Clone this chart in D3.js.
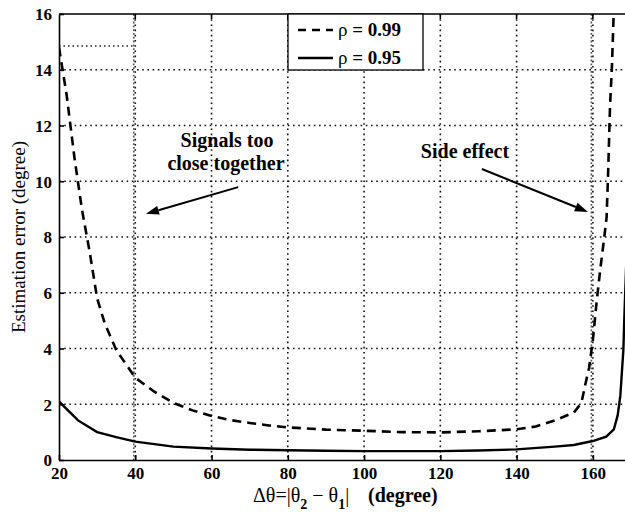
<!DOCTYPE html>
<html>
<head>
<meta charset="utf-8">
<script src="https://cdn.jsdelivr.net/npm/d3@7"></script>
<style>
  html, body { margin: 0; padding: 0; background: #fff; }
  svg { display: block; }
  text { font-family: "Liberation Serif", "Times New Roman", serif; fill: #000; }
</style>
</head>
<body>
<svg id="chart" width="625" height="515"></svg>
<script>
// Angular separation (degree) and estimation error (degree) for two correlation levels
const sepHigh = [20, 22, 24, 26, 28, 30, 32, 35, 40, 45, 50, 55, 60, 65, 70, 75, 80, 90, 100, 110, 120, 130, 140, 145, 150, 155, 157, 158, 159, 160, 161, 162, 163, 163.6, 164, 164.5, 165, 165.5];
const errHigh = [14.8, 13.1, 10.9, 9.0, 7.5, 5.8, 4.9, 3.95, 2.95, 2.45, 2.05, 1.78, 1.58, 1.43, 1.33, 1.24, 1.17, 1.09, 1.05, 1.0, 0.99, 1.03, 1.1, 1.2, 1.42, 1.7, 2.05, 2.7, 3.3, 4.3, 5.7, 6.9, 8.0, 8.7, 10.3, 12.7, 14.1, 16.2];

const sepLow = [20, 25, 30, 35, 40, 50, 60, 70, 80, 90, 100, 120, 130, 140, 150, 155, 160, 163.5, 165.5, 166.5, 167.2, 168, 168.3, 169];
const errLow = [2.1, 1.42, 1.0, 0.82, 0.66, 0.48, 0.41, 0.37, 0.35, 0.33, 0.32, 0.32, 0.34, 0.38, 0.48, 0.54, 0.68, 0.84, 1.1, 1.6, 2.3, 3.95, 5.3, 8.0];

const xTicks = [20, 40, 60, 80, 100, 120, 140, 160];
const yTicks = [0, 2, 4, 6, 8, 10, 12, 14, 16];
const seriesLabels = ["0.99", "0.95"];

const svg = d3.select("#chart");
const pL = 59, pR = 631, pT = 14, pB = 460;

const x = d3.scaleLinear().domain([20, 170]).range([pL, pR]);
const y = d3.scaleLinear().domain([0, 16]).range([pB, pT]);

svg.append("defs").append("clipPath").attr("id", "plotClip")
  .append("rect").attr("x", pL).attr("y", pT).attr("width", pR - pL).attr("height", pB - pT);

// dotted grid
const grid = svg.append("g");
grid.selectAll("line.gx").data(xTicks.filter(d => d > 20)).join("line").attr("class", "gx")
  .attr("x1", d => x(d)).attr("x2", d => x(d)).attr("y1", pT).attr("y2", pB);
grid.selectAll("line.gy").data(yTicks.filter(d => d > 0 && d < 16)).join("line").attr("class", "gy")
  .attr("x1", pL).attr("x2", pR).attr("y1", d => y(d)).attr("y2", d => y(d));
grid.selectAll("line")
  .attr("stroke", "#111").attr("stroke-width", 1.6).attr("stroke-dasharray", "1.6,3.6");

// boundary markers of the valid separation range
svg.append("g").selectAll("line").data([40, 160]).join("line")
  .attr("x1", d => x(d) - 1.5).attr("x2", d => x(d) - 1.5).attr("y1", pT).attr("y2", pB)
  .attr("stroke", "#555").attr("stroke-width", 1.6).attr("stroke-dasharray", "1.8,2");
svg.append("line")
  .attr("x1", x(20)).attr("x2", x(40)).attr("y1", y(14.85)).attr("y2", y(14.85))
  .attr("stroke", "#222").attr("stroke-width", 1.6).attr("stroke-dasharray", "1.5,3");

// axes with inward ticks
const xAxis = d3.axisBottom(x).tickValues(xTicks).tickSize(-5).tickPadding(7).tickSizeOuter(0);
const yAxis = d3.axisLeft(y).tickValues(yTicks).tickSize(-5).tickPadding(7).tickSizeOuter(0);

const gx = svg.append("g").attr("transform", `translate(0,${pB})`).call(xAxis);
const gy = svg.append("g").attr("transform", `translate(${pL},0)`).call(yAxis);
[gx, gy].forEach(g => {
  g.select(".domain").attr("stroke", "#000").attr("stroke-width", 1.6);
  g.selectAll(".tick line").attr("stroke", "#000").attr("stroke-width", 1.6);
  g.selectAll(".tick text").attr("font-family", "Liberation Serif, serif")
    .attr("font-size", 17).attr("font-weight", "bold").attr("fill", "#000");
});
gy.selectAll(".tick text").attr("dy", "0.35em");

// top frame
svg.append("line").attr("x1", pL).attr("x2", pR).attr("y1", pT).attr("y2", pT)
  .attr("stroke", "#000").attr("stroke-width", 1.6);
svg.append("g").selectAll("line").data(xTicks.filter(d => d > 20)).join("line")
  .attr("x1", d => x(d)).attr("x2", d => x(d)).attr("y1", pT).attr("y2", pT + 5)
  .attr("stroke", "#000").attr("stroke-width", 1.6);

// curves
const line = d3.line().x(d => x(d[0])).y(d => y(d[1]));
const plot = svg.append("g").attr("clip-path", "url(#plotClip)");
plot.append("path").datum(d3.zip(sepHigh, errHigh)).attr("d", line)
  .attr("fill", "none").attr("stroke", "#000").attr("stroke-width", 2.6)
  .attr("stroke-dasharray", "9,6");
plot.append("path").datum(d3.zip(sepLow, errLow)).attr("d", line)
  .attr("fill", "none").attr("stroke", "#000").attr("stroke-width", 2.4);

// legend
const lg = svg.append("g");
lg.append("rect").attr("x", 288).attr("y", pT).attr("width", 135).attr("height", 56)
  .attr("fill", "#fff").attr("stroke", "#000").attr("stroke-width", 1.3);
const rows = [{ y: 30, dash: "8,6", label: seriesLabels[0] }, { y: 58, dash: null, label: seriesLabels[1] }];
rows.forEach(r => {
  lg.append("line").attr("x1", 298).attr("x2", 333).attr("y1", r.y).attr("y2", r.y)
    .attr("stroke", "#000").attr("stroke-width", 2.6).attr("stroke-dasharray", r.dash);
  const t = lg.append("text").attr("x", 338).attr("y", r.y + 6).attr("font-size", 19);
  t.append("tspan").text("ρ");
  t.append("tspan").attr("font-weight", "bold").text(" = " + r.label);
});

// axis titles
const xt = svg.append("text").attr("x", 253).attr("y", 502).attr("font-size", 20);
xt.append("tspan").text("Δθ=|θ");
xt.append("tspan").attr("dy", 7).attr("font-size", 14).attr("font-weight", "bold").text("2");
xt.append("tspan").attr("dy", -7).text(" − θ");
xt.append("tspan").attr("dy", 7).attr("font-size", 14).attr("font-weight", "bold").text("1");
xt.append("tspan").attr("dy", -7).text("|");
xt.append("tspan").attr("x", 368).attr("font-weight", "bold").text("(degree)");

svg.append("text").attr("transform", `translate(25,${(pT + pB) / 2}) rotate(-90)`)
  .attr("text-anchor", "middle").attr("font-size", 19).text("Estimation error (degree)");

// annotations
const ann = svg.append("g").attr("font-weight", "bold").attr("font-size", 20).attr("text-anchor", "middle");
ann.append("text").attr("x", 227).attr("y", 147).text("Signals too");
ann.append("text").attr("x", 226).attr("y", 170).text("close together");
ann.append("text").attr("x", 465).attr("y", 158).text("Side effect");

function arrow(x1, y1, x2, y2) {
  const a = Math.atan2(y2 - y1, x2 - x1), L = 13, W = 4.5;
  const bx = x2 - L * Math.cos(a), by = y2 - L * Math.sin(a);
  svg.append("line").attr("x1", x1).attr("y1", y1).attr("x2", bx).attr("y2", by)
    .attr("stroke", "#000").attr("stroke-width", 2);
  svg.append("path").attr("d", d3.line()([
    [x2, y2],
    [bx - W * Math.sin(a), by + W * Math.cos(a)],
    [bx + W * Math.sin(a), by - W * Math.cos(a)]
  ]) + "Z").attr("fill", "#000");
}
arrow(x(67), y(9.79), x(42.8), y(8.83));
arrow(x(130.9), y(10.44), x(158.7), y(8.9));
</script>
</body>
</html>
